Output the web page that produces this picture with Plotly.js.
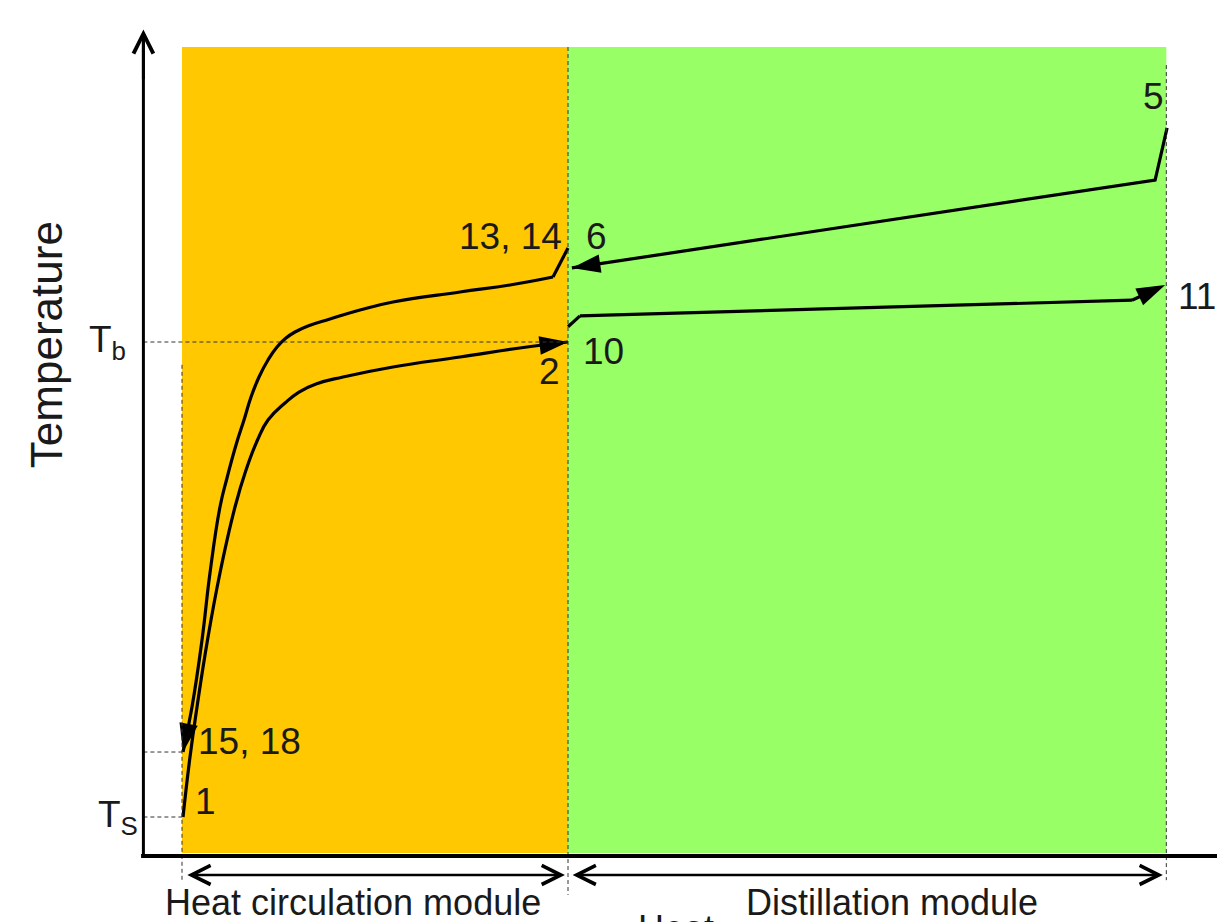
<!DOCTYPE html>
<html><head><meta charset="utf-8">
<script src="https://cdn.plot.ly/plotly-3.0.1.min.js"></script>
<style>html,body{margin:0;padding:0;background:#fff;}#chart{width:1217px;height:922px;}</style>
</head><body><div id="chart"></div>
<script>
// Heat axis (arbitrary units): 0 = start of heat circulation module, 100 = module boundary, 255 = end of distillation module
// Temperature axis (arbitrary units): 0 = T_S, 100 = T_b
const moduleNames = ['Heat circulation module', 'Distillation module'];
const moduleBounds = [0, 100, 255];
const tickValues = [0, 100];
const tickLabels = ['T<sub>S</sub>', 'T<sub>b</sub>'];
const axisTitles = ['Heat', 'Temperature'];

// cold stream 1 -> 2 (heat circulation module)
const coldHcQ = [0.26, 2.07, 3.89, 6.61, 9.84, 13.73, 16.58, 19.56, 22.28, 26.68, 30.31, 34.72, 41.71, 54.66, 72.02, 89.38, 100];
const coldHcT = [0, 12.63, 23.16, 37.26, 51.37, 65.26, 73.05, 79.37, 83.58, 87.16, 89.47, 91.16, 92.63, 94.74, 96.84, 98.95, 100];
// cold stream 10 -> 11 (distillation module)
const coldDsQ = [100, 103.1, 246.1, 254.7];
const coldDsT = [103.2, 105.5, 108.8, 112.0];
// hot stream 5 -> 6 (distillation module)
const hotDsQ = [255.2, 252.1, 101.0];
const hotDsT = [145.1, 134.1, 115.6];
// hot stream 13,14 -> 15,18 (heat circulation module)
const hotHcQ = [100, 96.11, 84.97, 72.02, 54.66, 46.11, 38.34, 32.64, 29.27, 26.94, 24.61, 22.28, 19.95, 17.88, 16.06, 13.99, 11.66, 9.84, 7.25, 5.18, 2.59, 0.26];
const hotHcT = [119.8, 113.68, 112.0, 110.53, 108.42, 106.74, 104.84, 103.37, 102.11, 100.84, 98.95, 96.21, 92.63, 88.42, 83.58, 78.32, 71.37, 65.26, 51.37, 37.26, 23.16, 13.68];
// state point labels
const pointLabels = ['5', '13, 14', '6', '10', '2', '11', '15, 18', '1'];

const FONT = 'Liberation Sans, Arial, Helvetica, sans-serif';
const TXT = '#1a1a1a';
const ARROW = 30;
const AX_Q = -10;     // position of temperature axis
const AX_T = -8.2;    // position of heat axis
const T15 = hotHcT[hotHcT.length - 1];

function headSizes(n) { return Array.from({length: n}, (_, i) => i === n - 1 ? ARROW : 0); }
function stream(q, t, shape, arrow) {
  return {
    type: 'scatter', x: q, y: t, mode: arrow ? 'lines+markers' : 'lines',
    line: {color: '#000', width: 3.2, shape: shape, smoothing: 1.3},
    marker: {symbol: 'arrow', angleref: 'previous', size: headSizes(q.length), color: '#000', opacity: 1, line: {width: 0}},
    cliponaxis: false, hoverinfo: 'skip', showlegend: false
  };
}

const data = [
  stream(coldHcQ, coldHcT, 'spline', true),
  stream(coldDsQ, coldDsT, 'linear', true),
  stream(hotDsQ, hotDsT, 'linear', true),
  stream(hotHcQ.slice(0, 2), hotHcT.slice(0, 2), 'linear', false),
  stream(hotHcQ.slice(1), hotHcT.slice(1), 'spline', true)
];

const dashLine = {color: '#333', width: 1, dash: '4px,3px'};
const shapes = [
  {type: 'rect', layer: 'below', x0: moduleBounds[0], x1: moduleBounds[1], y0: -7.6, y1: 162.1, fillcolor: '#FFC800', line: {width: 0}},
  {type: 'rect', layer: 'below', x0: moduleBounds[1], x1: moduleBounds[2], y0: -7.6, y1: 162.1, fillcolor: '#99FF66', line: {width: 0}},
  {type: 'line', x0: moduleBounds[0], x1: moduleBounds[0], y0: 95.2, y1: -13.3, line: dashLine},
  {type: 'line', x0: moduleBounds[1], x1: moduleBounds[1], y0: 162.1, y1: -16.4, line: dashLine},
  {type: 'line', x0: moduleBounds[2], x1: moduleBounds[2], y0: 158.3, y1: -13.3, line: dashLine},
  {type: 'line', x0: AX_Q, x1: moduleBounds[1], y0: tickValues[1], y1: tickValues[1], line: dashLine},
  {type: 'line', x0: AX_Q, x1: moduleBounds[0], y0: T15, y1: T15, line: dashLine},
  {type: 'line', x0: AX_Q, x1: moduleBounds[0], y0: tickValues[0], y1: tickValues[0], line: dashLine},
  {type: 'line', x0: AX_Q, x1: AX_Q, y0: AX_T - 0.4, y1: 164.2, line: {color: '#000', width: 3}},
  {type: 'line', x0: AX_Q - 0.6, x1: 270, y0: AX_T, y1: AX_T, line: {color: '#000', width: 4}}
];

const txt = (s, x, y, extra) => Object.assign({text: s, x: x, y: y, xref: 'x', yref: 'y', showarrow: false,
  xanchor: 'center', yanchor: 'middle', font: {family: FONT, size: 37, color: TXT}}, extra || {});

const annotations = [
  txt(pointLabels[0], 251.6, 151.6),
  txt(pointLabels[1], 85.2, 122.3),
  txt(pointLabels[2], 107.5, 122.3),
  txt(pointLabels[3], 109.1, 98.1),
  txt(pointLabels[4], 95.3, 93.7),
  txt(pointLabels[5], 263.0, 109.5),
  txt(pointLabels[6], 17.4, 15.8),
  txt(pointLabels[7], 6.2, 3.2),
  txt(tickLabels[1], -14.0, tickValues[1], {xanchor: 'right'}),
  txt(tickLabels[0], -10.9, tickValues[0], {xanchor: 'right'}),
  txt(axisTitles[1], -34.9, 99.4, {textangle: -90, font: {family: FONT, size: 44, color: TXT}}),
  txt(moduleNames[0], 44.3, -18.1, {font: {family: FONT, size: 36, color: TXT}}),
  txt(moduleNames[1], 183.9, -18.1, {font: {family: FONT, size: 36, color: TXT}}),
  txt(axisTitles[0], 676 / 1217, -0.0075, {xref: 'paper', yref: 'paper', font: {family: FONT, size: 36, color: TXT}}),
  // y-axis arrow head
  {x: AX_Q, y: 165.8, ax: AX_Q, ay: 155, axref: 'x', ayref: 'y', xref: 'x', yref: 'y', text: '',
   showarrow: true, arrowhead: 5, arrowsize: 1.3, arrowwidth: 3, arrowcolor: '#000'},
  // module span arrows
  {x: 99.2, y: -12.2, ax: 1.0, ay: -12.2, axref: 'x', ayref: 'y', xref: 'x', yref: 'y', text: '',
   showarrow: true, arrowside: 'end+start', arrowhead: 5, startarrowhead: 5, arrowsize: 1.5, startarrowsize: 1.5, arrowwidth: 2.5, arrowcolor: '#000'},
  {x: 254.1, y: -12.2, ax: 100.8, ay: -12.2, axref: 'x', ayref: 'y', xref: 'x', yref: 'y', text: '',
   showarrow: true, arrowside: 'end+start', arrowhead: 5, startarrowhead: 5, arrowsize: 1.5, startarrowsize: 1.5, arrowwidth: 2.5, arrowcolor: '#000'}
];

const layout = {
  width: 1217, height: 922, autosize: false,
  margin: {l: 0, r: 0, t: 0, b: 0, pad: 0},
  paper_bgcolor: '#fff', plot_bgcolor: '#fff',
  xaxis: {visible: false, range: [-47.15, 268.13], fixedrange: true},
  yaxis: {visible: false, range: [-22.105, 172.0], fixedrange: true},
  shapes: shapes, annotations: annotations, showlegend: false
};

Plotly.newPlot('chart', data, layout, {staticPlot: true, displayModeBar: false});
</script>
</body></html>
